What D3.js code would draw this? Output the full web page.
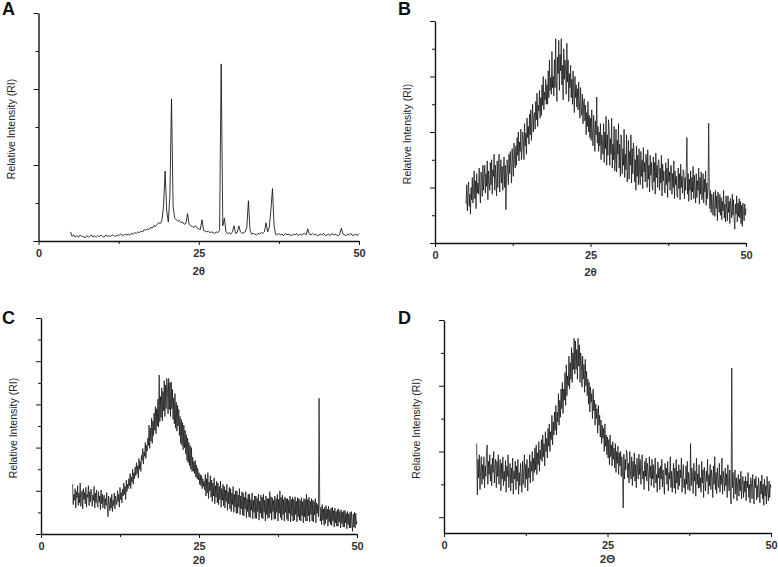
<!DOCTYPE html>
<html><head><meta charset="utf-8">
<script src="https://cdn.jsdelivr.net/npm/d3@7"></script>
<style>
html,body{margin:0;padding:0;background:#fff;}
svg{display:block;font-family:"Liberation Sans",Arial,sans-serif;}
</style></head>
<body>
<svg id="chart" width="778" height="567"></svg>
<script>
// ---- data: 2θ grid (degrees) and relative intensity (arbitrary units) ----
const twoThetaStart = 5;
const twoThetaSteps = [0.25, 0.1, 0.1, 0.1];
const xTicksMajor = [0, 25, 50];
const xTicksMinor = [12.5, 37.5];
const xTickLabels = ["0", "25", "50"];

const intensityA = [
 12,6,8,5, 7,5,8,6, 6,4,7,5, 6,8,5,7, 5,7,6,8, 6,5,8,6, 7,6,8,7, 6,8,7,9,
 8,7,9,8, 9,8,10,9, 11,10,12,11, 13,12,15,14, 16,15,18,17, 20,19,22,24,
 23,27,45,92, 40,25,60,187, 45,30,28,26, 27,24,25,22, 23,36,22,20, 19,18,20,17,
 16,15,28,14, 13,12,13,11, 12,11,10,12, 11,14,233,20, 30,12,10,11, 9,12,20,10,
 11,20,12,10, 11,12,18,53, 14,9,10,9, 8,10,9,11, 10,12,24,12, 18,40,69,20,
 9,8,10,8, 9,7,10,8, 9,8,7,9, 8,10,7,9, 8,9,10,8, 16,9,8,10, 8,9,7,8,
 9,8,10,7, 8,9,7,10, 8,9,8,7, 9,17,9,8, 7,9,8,10, 7,8,9,7, 10
];
const intensityB = [
 70,105,58,92,110,66,88,52,100,78,
 118,72,100,130,80,112,62,125,90,108,
 88,135,98,72,128,115,84,140,95,122,
 140,90,125,102,148,78,130,110,95,145,
 105,150,88,132,120,160,95,140,112,85,
 148,100,135,160,92,125,150,108,138,95,
 130,155,100,140,60,118,150,128,105,160,
 125,165,138,108,170,145,120,180,150,135,
 175,140,190,158,200,148,182,165,205,150,
 168,200,185,150,215,175,198,160,225,190,
 210,178,232,195,240,185,218,250,200,228,
 235,205,255,222,270,210,248,238,275,225,
 262,230,285,248,300,240,272,258,295,250,
 285,250,310,262,330,275,298,268,345,280,
 300,265,330,280,368,290,255,335,305,365,
 275,340,310,368,285,320,258,350,295,330,
 310,268,360,290,330,255,305,280,320,262,
 295,250,310,270,235,300,262,285,245,278,
 240,290,255,225,280,245,230,268,215,255,
 260,220,248,195,235,210,255,200,230,190,
 225,185,240,200,175,230,208,165,220,195,
 263,180,210,165,200,175,215,150,195,185,
 160,215,145,200,170,228,140,195,158,222,
 205,140,188,160,225,135,178,150,210,130,
 150,205,128,185,160,215,135,178,120,195,
 190,125,170,140,205,118,160,132,195,110,
 130,185,115,165,140,195,108,170,125,180,
 165,110,150,95,175,120,158,105,170,128,
 105,165,120,150,98,172,128,145,110,160,
 150,100,168,115,140,92,158,122,145,105,
 95,155,110,145,88,162,118,140,100,150,
 148,95,135,108,158,85,142,112,130,92,
 90,145,105,135,82,152,110,128,95,140,
 138,88,125,100,148,80,130,105,120,85,
 82,135,98,125,78,142,100,120,90,132,
 128,80,118,95,135,190,88,125,75,115,
 95,130,78,118,92,138,80,122,100,72,
 125,82,112,95,135,70,118,88,128,78,
 85,125,72,115,92,130,68,108,80,100,
 216,90,62,95,55,88,70,50,92,65,
 48,95,62,85,40,92,70,55,88,50,
 82,42,75,58,95,45,70,38,85,60,
 40,85,55,75,35,80,62,45,88,50,
 78,42,25,70,52,85,38,72,48,80,
 45,75,35,68,30,72,55,40,70,50,
 62
];
const intensityC = [
 115,68,92,78,105,60,98,84,112,66,
 95,72,118,64,90,100,58,105,80,96,
 70,108,62,92,85,112,66,98,74,104,
 100,64,90,78,110,60,95,72,102,68,
 62,98,74,88,56,102,70,92,60,84,
 90,58,82,66,96,62,40,88,70,54,
 84,60,92,52,78,66,95,58,88,74,
 68,100,75,92,62,108,80,96,72,104,
 88,118,92,110,80,125,98,115,105,128,
 112,140,105,132,120,150,115,142,128,155,
 135,165,140,158,130,175,150,168,145,182,
 170,198,162,190,180,212,175,205,192,222,
 205,252,198,245,215,268,210,262,228,280,
 240,295,232,290,250,312,248,368,260,318,
 270,338,262,330,285,355,272,345,290,360,
 340,278,360,288,350,272,352,290,335,265,
 315,255,325,245,305,238,298,250,288,228,
 272,210,265,205,258,195,252,200,240,185,
 230,170,222,165,212,158,205,150,200,145,
 178,145,168,140,170,132,160,128,152,125,
 142,115,138,112,135,105,128,110,122,102,
 138,88,128,95,142,82,120,100,135,85,
 125,75,118,88,130,70,112,85,122,72,
 118,68,110,80,122,62,105,78,115,65,
 110,60,102,75,115,55,98,70,108,58,
 105,52,95,68,110,50,92,62,100,48,
 100,48,90,62,105,45,88,58,98,44,
 95,42,85,58,98,38,82,52,92,40,
 92,38,80,55,95,35,78,50,88,36,
 88,36,82,52,92,32,76,48,90,38,
 85,35,92,50,78,30,88,45,82,36,
 82,38,98,48,86,32,84,52,78,34,
 88,35,82,50,92,30,80,48,100,38,
 85,32,90,45,80,30,86,50,82,34,
 82,30,78,48,88,28,80,42,85,30,
 80,32,86,45,76,28,84,40,82,32,
 78,30,84,42,75,26,82,40,80,30,
 92,30,80,42,85,28,76,45,82,30,
 78,28,75,44,82,26,72,48,68,40,
 314,70,30,62,22,68,32,58,20,62,
 24,66,34,58,18,64,28,56,22,60,
 20,62,30,54,16,60,26,52,18,56,
 18,58,28,52,14,56,24,50,16,54,
 16,55,26,48,12,52,22,46,14,50,
 14,52,24,6,46,16,50,14,48,22,
 30
];
const intensityD = [
 112,34,88,60,95,42,70,92,50,80,
 58,92,45,78,62,98,110,50,85,65,
 95,55,80,48,90,68,100,52,75,88,
 45,85,62,95,50,72,88,40,82,58,
 92,48,70,55,86,38,78,62,95,45,
 60,82,40,75,52,90,35,70,58,85,
 42,78,55,88,35,68,48,82,60,38,
 85,50,72,95,45,80,58,88,40,75,
 60,95,52,85,70,100,55,90,68,105,
 72,110,65,98,80,115,70,102,88,118,
 85,125,92,112,78,130,100,120,90,135,
 108,142,100,130,118,155,110,145,125,160,
 132,170,125,160,145,188,140,178,152,195,
 165,205,158,195,178,220,170,232,185,215,
 200,245,195,235,210,258,205,250,225,272,
 218,268,225,255,210,272,230,262,205,250,
 238,198,245,210,232,190,240,200,222,185,
 210,172,205,160,198,175,188,150,195,162,
 178,140,172,150,165,128,170,140,155,122,
 148,112,140,120,135,100,142,108,125,95,
 122,90,118,80,125,92,110,78,115,88,
 105,75,112,68,100,82,108,65,98,78,
 100,62,92,70,14,96,58,88,72,102,
 95,60,82,52,100,70,58,92,48,85,
 62,98,55,80,45,90,72,58,96,65,
 88,50,75,95,58,70,42,85,62,90,
 55,82,68,40,92,60,78,48,88,58,
 80,45,70,90,52,65,38,84,60,75,
 42,78,58,88,46,72,55,35,82,64,
 75,50,85,40,68,58,92,45,70,38,
 66,82,44,75,36,88,52,70,42,80,
 48,72,60,90,38,65,80,45,58,35,
 78,50,85,42,68,55,40,112,48,75,
 62,36,82,55,70,32,90,50,66,44,
 80,45,60,38,85,52,72,30,76,58,
 40,70,55,88,35,65,48,80,42,72,
 60,30,78,50,92,42,68,36,75,55,
 45,82,38,64,50,90,35,70,58,40,
 75,48,66,30,80,52,40,72,35,20,
 227,45,68,28,55,72,35,60,25,52,
 65,32,58,40,70,28,52,62,30,55,
 38,62,25,55,45,68,30,50,22,60,
 52,28,65,40,20,58,45,62,26,48,
 30,60,42,22,55,35,64,28,50,18,
 58,32,48,20,62,40,25,55,30,50,
 45
];

const panelLetters = ["A", "B", "C", "D"];
const xTitles = ["2\u03b8", "2\u03b8", "2\u03b8", "2\u0398"];
const yTitle = "Relative Intensity (RI)";
const yDomains = [[0, 300], [0, 400], [0, 500], [-24, 300]];
const yTicksMajor = [[0,100,200,300], [0,100,200,300,400], [0,100,200,300,400,500], [0,100,200,300]];
const yTicksMinor = [[50,150,250], [50,150,250,350], [50,150,250,350,450], [50,150,250]];
const seriesList = [intensityA, intensityB, intensityC, intensityD];

// ---- layout (pixel boxes of each panel's plot area) ----
const boxes = [
  {left: 38.5, right: 359, top: 13,  bottom: 241, letterX: 2,   letterY: 15,  titleDy: 34, lineW: 0.85},
  {left: 435,  right: 746, top: 21,  bottom: 243, letterX: 398, letterY: 15,  titleDy: 33, lineW: 0.75},
  {left: 41,   right: 357, top: 318, bottom: 534, letterX: 2,   letterY: 324, titleDy: 30, lineW: 0.75},
  {left: 444,  right: 771, top: 320, bottom: 533, letterX: 398, letterY: 324, titleDy: 30, lineW: 0.75}
];

const svg = d3.select("#chart");

boxes.forEach((b, p) => {
  const vals = seriesList[p];
  const step = twoThetaSteps[p];
  const data = vals.map((v, i) => ({t: twoThetaStart + i * step, v}));
  const x = d3.scaleLinear().domain([0, 50]).range([b.left, b.right]);
  const y = d3.scaleLinear().domain(yDomains[p]).range([b.bottom, b.top]);
  const g = svg.append("g");

  // series line
  g.append("path").datum(data)
    .attr("fill", "none").attr("stroke", "#111").attr("stroke-width", b.lineW)
    .attr("d", d3.line().x(d => x(d.t)).y(d => y(d.v)));

  // y axis
  g.append("g").attr("transform", `translate(${b.left},0)`)
    .call(d3.axisLeft(y).tickValues(yTicksMajor[p]).tickSize(5).tickSizeOuter(0).tickFormat(""));
  g.append("g").attr("transform", `translate(${b.left},0)`)
    .call(d3.axisLeft(y).tickValues(yTicksMinor[p]).tickSize(3).tickSizeOuter(0).tickFormat(""))
    .select(".domain").remove();

  // x axis
  const xAxisG = g.append("g").attr("transform", `translate(0,${b.bottom})`)
    .call(d3.axisBottom(x).tickValues(xTicksMajor).tickSize(4).tickSizeOuter(0)
      .tickFormat((d, i) => xTickLabels[i]));
  g.append("g").attr("transform", `translate(0,${b.bottom})`)
    .call(d3.axisBottom(x).tickValues(xTicksMinor).tickSize(3).tickSizeOuter(0).tickFormat(""))
    .select(".domain").remove();

  g.selectAll(".domain").attr("stroke", "#111").attr("stroke-width", 1.4);
  g.selectAll(".tick line").attr("stroke", "#111").attr("stroke-width", 1);
  xAxisG.selectAll(".tick text")
    .attr("y", 8).attr("font-size", 11).attr("font-weight", "bold")
    .attr("fill", "#333").attr("font-family", "Liberation Sans, Arial, sans-serif");

  // titles
  g.append("text").attr("x", (b.left + b.right) / 2).attr("y", b.bottom + b.titleDy)
    .attr("text-anchor", "middle").attr("font-size", 11.5).attr("font-weight", "bold")
    .attr("fill", "#333").text(xTitles[p]);
  g.append("text")
    .attr("transform", `translate(${b.left - 24},${(b.top + b.bottom) / 2 + 2}) rotate(-90)`)
    .attr("text-anchor", "middle").attr("font-size", 10.5)
    .attr("fill", "#222").text(yTitle);
  g.append("text").attr("x", b.letterX).attr("y", b.letterY)
    .attr("font-size", 18).attr("font-weight", "bold").attr("fill", "#111")
    .text(panelLetters[p]);
});
</script>
</body></html>
